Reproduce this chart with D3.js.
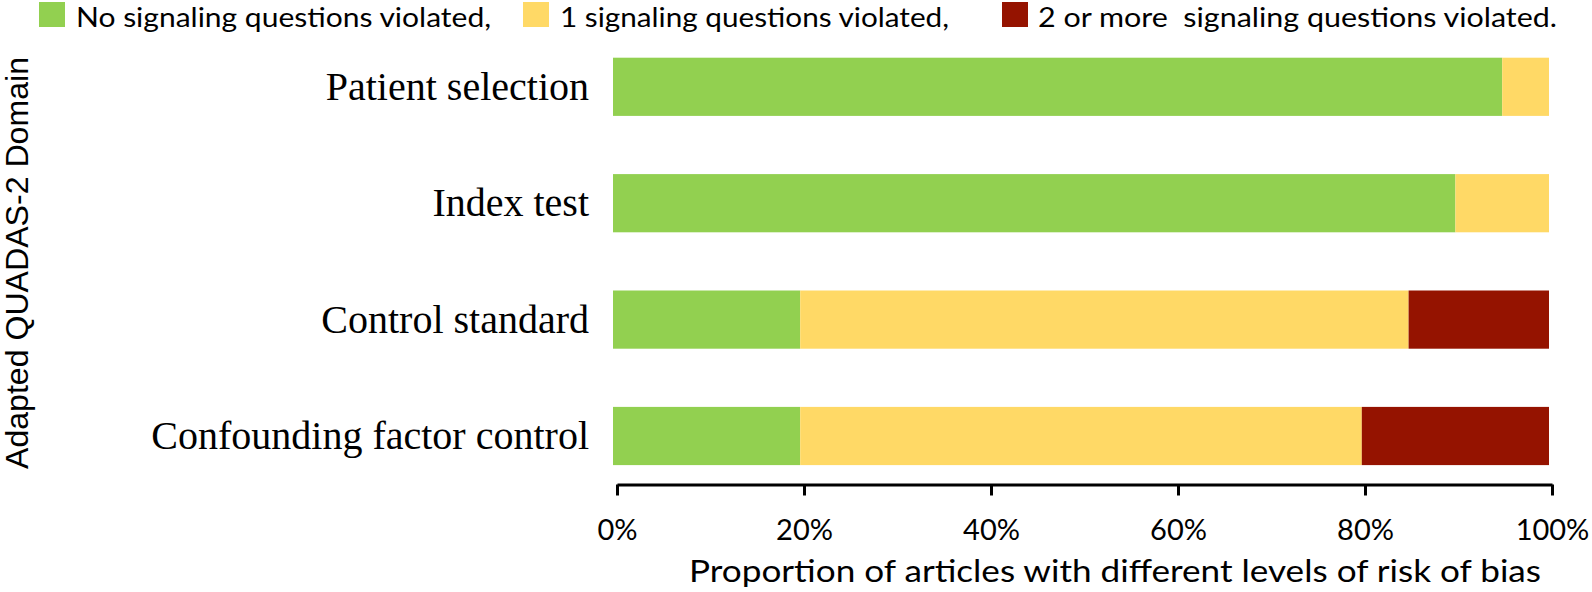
<!DOCTYPE html>
<html>
<head>
<meta charset="utf-8">
<script src="https://cdn.jsdelivr.net/npm/d3@7"></script>
<style>
  html, body { margin: 0; padding: 0; background: #ffffff; }
  svg { display: block; }
  text { white-space: pre; }
</style>
</head>
<body>
<svg id="chart" width="1592" height="592"></svg>
<script>
// ---- Data ----
const categories = ["Patient selection", "Index test", "Control standard", "Confounding factor control"];
const noneViolated = [95, 90, 20, 20];
const oneViolated = [5, 10, 65, 60];
const twoPlusViolated = [0, 0, 15, 20];
const seriesNames = ["No signaling questions violated,", "1 signaling questions violated,", "2 or more  signaling questions violated."];
const seriesColors = ["#92D050", "#FFD966", "#951300"];
const tickValues = [0, 20, 40, 60, 80, 100];
const tickLabels = ["0%", "20%", "40%", "60%", "80%", "100%"];
const xTitle = "Proportion of articles with different levels of risk of bias";
const yTitle = "Adapted QUADAS-2 Domain";

const svg = d3.select("#chart");
const sans = "Lato, 'Open Sans', sans-serif";

// Scales
const xAxisScale = d3.scaleLinear().domain([0, 100]).range([617, 1552]);
const xBar = d3.scaleLinear().domain([0, 100]).range([613, 1549]);
const y = d3.scaleBand().domain(categories).range([28.6, 494.2]).paddingInner(0.5).paddingOuter(0.25);

// Stack
const rows = categories.map((c, i) => ({ cat: c, s0: noneViolated[i], s1: oneViolated[i], s2: twoPlusViolated[i] }));
const stack = d3.stack().keys(["s0", "s1", "s2"])(rows);

svg.append("g").selectAll("g").data(stack).join("g")
  .attr("fill", (d, i) => seriesColors[i])
  .selectAll("rect").data(d => d.filter(p => p[1] - p[0] > 0)).join("rect")
  .attr("x", d => xBar(d[0]))
  .attr("width", d => xBar(d[1]) - xBar(d[0]))
  .attr("y", d => y(d.data.cat))
  .attr("height", y.bandwidth());

// Category labels
svg.append("g").selectAll("text").data(categories).join("text")
  .attr("x", 589)
  .attr("y", d => y(d) + y.bandwidth() / 2 + 13)
  .attr("text-anchor", "end")
  .attr("font-family", "'Liberation Serif', 'Times New Roman', serif")
  .attr("font-size", 40)
  .attr("fill", "#000")
  .text(d => d);

// X axis
const axis = d3.axisBottom(xAxisScale)
  .tickValues(tickValues)
  .tickFormat((d, i) => tickLabels[i])
  .tickSize(11)
  .tickSizeOuter(0);
const gx = svg.append("g").attr("transform", "translate(0,484.5)").call(axis);
gx.select(".domain").attr("stroke", "#000").attr("stroke-width", 3);
gx.selectAll(".tick line").attr("stroke", "#000").attr("stroke-width", 3);
gx.selectAll(".tick text")
  .attr("y", 55).attr("dy", 0)
  .attr("font-family", sans)
  .attr("font-size", 29)
  .attr("fill", "#000");

// X title
svg.append("text")
  .attr("x", 689).attr("y", 582)
  .attr("font-family", sans)
  .attr("font-size", 30)
  .attr("textLength", 852)
  .attr("lengthAdjust", "spacingAndGlyphs")
  .attr("fill", "#000")
  .text(xTitle);

// Y title
svg.append("text")
  .attr("transform", "translate(28,263) rotate(-90)")
  .attr("text-anchor", "middle")
  .attr("font-family", "'Liberation Sans', Arial, sans-serif")
  .attr("font-size", 31)
  .attr("textLength", 412)
  .attr("lengthAdjust", "spacingAndGlyphs")
  .attr("fill", "#000")
  .text(yTitle);

// Legend
const legendSquareX = [39, 523, 1002];
const legendTextX = [76, 560, 1038];
const legendTextW = [415, 389, 519];
const lg = svg.append("g").selectAll("g").data(seriesNames).join("g");
lg.append("rect")
  .attr("x", (d, i) => legendSquareX[i])
  .attr("y", 2)
  .attr("width", 26).attr("height", 25)
  .attr("fill", (d, i) => seriesColors[i]);
lg.append("text")
  .attr("x", (d, i) => legendTextX[i])
  .attr("y", 27)
  .attr("font-family", sans)
  .attr("font-size", 27)
  .attr("textLength", (d, i) => legendTextW[i])
  .attr("lengthAdjust", "spacingAndGlyphs")
  .attr("fill", "#000")
  .text(d => d);
</script>
</body>
</html>
